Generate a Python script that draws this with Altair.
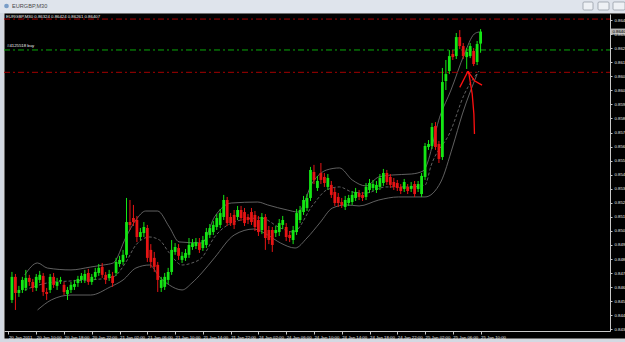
import altair as alt
import pandas as pd

# ---------------- data ----------------
bars = list(range(1, 137))

opens = [
    0.84557, 0.84716, 0.84605, 0.84626, 0.84640, 0.84709, 0.84681, 0.84640, 0.84695, 0.84723,
    0.84612, 0.84626, 0.84716, 0.84654, 0.84688, 0.84661, 0.84598, 0.84626, 0.84647, 0.84674,
    0.84695, 0.84695, 0.84743, 0.84681, 0.84716, 0.84743, 0.84785, 0.84730, 0.84709, 0.84723,
    0.84743, 0.84805, 0.84819, 0.84868, 0.85094, 0.85122, 0.85108, 0.84991, 0.85018, 0.85053,
    0.84902, 0.84847, 0.84799, 0.84640, 0.84647, 0.84695, 0.84750, 0.84888, 0.84915, 0.84833,
    0.84847, 0.84868, 0.84922, 0.84929, 0.84949, 0.84915, 0.84936, 0.85005, 0.85025, 0.85060,
    0.85074, 0.85129, 0.85246, 0.85129, 0.85143, 0.85129, 0.85177, 0.85163, 0.85129, 0.85163,
    0.85143, 0.85108, 0.85039, 0.85129, 0.85039, 0.85039, 0.85018, 0.85025, 0.85074, 0.85060,
    0.85005, 0.84970, 0.85025, 0.85108, 0.85163, 0.85191, 0.85260, 0.85439, 0.85329, 0.85432,
    0.85405, 0.85336, 0.85350, 0.85301, 0.85267, 0.85232, 0.85198, 0.85225, 0.85232, 0.85260,
    0.85294, 0.85281, 0.85267, 0.85315, 0.85329, 0.85315, 0.85336, 0.85363, 0.85432, 0.85405,
    0.85370, 0.85363, 0.85336, 0.85322, 0.85336, 0.85322, 0.85356, 0.85322, 0.85287, 0.85405,
    0.85611, 0.85618, 0.85756, 0.85632, 0.85542, 0.86066, 0.86135, 0.86252, 0.86238, 0.86369,
    0.86307, 0.86231, 0.86238, 0.86273, 0.86197, 0.86324,
]
highs = [
    0.84750, 0.84736, 0.84654, 0.84716, 0.84764, 0.84730, 0.84702, 0.84736, 0.84757, 0.84743,
    0.84640, 0.84736, 0.84743, 0.84709, 0.84716, 0.84681, 0.84647, 0.84681, 0.84695, 0.84723,
    0.84743, 0.84764, 0.84771, 0.84736, 0.84778, 0.84805, 0.84812, 0.84750, 0.84764, 0.84750,
    0.84847, 0.84861, 0.84902, 0.85260, 0.85246, 0.85212, 0.85136, 0.85053, 0.85094, 0.85074,
    0.84942, 0.84888, 0.84819, 0.84716, 0.84743, 0.84778, 0.84970, 0.84949, 0.84942, 0.84888,
    0.84908, 0.84984, 0.84977, 0.84984, 0.84984, 0.84998, 0.85053, 0.85080, 0.85101, 0.85149,
    0.85184, 0.85281, 0.85267, 0.85156, 0.85177, 0.85205, 0.85205, 0.85191, 0.85149, 0.85191,
    0.85170, 0.85136, 0.85156, 0.85149, 0.85067, 0.85060, 0.85067, 0.85115, 0.85136, 0.85087,
    0.85032, 0.85067, 0.85184, 0.85205, 0.85274, 0.85287, 0.85474, 0.85488, 0.85412, 0.85501,
    0.85432, 0.85425, 0.85377, 0.85329, 0.85294, 0.85260, 0.85274, 0.85281, 0.85308, 0.85329,
    0.85315, 0.85301, 0.85363, 0.85391, 0.85384, 0.85377, 0.85425, 0.85460, 0.85453, 0.85425,
    0.85398, 0.85384, 0.85356, 0.85391, 0.85356, 0.85370, 0.85377, 0.85377, 0.85432, 0.85639,
    0.85659, 0.85777, 0.85783, 0.85653, 0.86156, 0.86211, 0.86280, 0.86280, 0.86397, 0.86417,
    0.86328, 0.86293, 0.86328, 0.86293, 0.86342, 0.86424,
]
lows = [
    0.84536, 0.84488, 0.84578, 0.84605, 0.84619, 0.84654, 0.84612, 0.84619, 0.84674, 0.84585,
    0.84557, 0.84605, 0.84640, 0.84626, 0.84667, 0.84592, 0.84557, 0.84605, 0.84626, 0.84647,
    0.84674, 0.84674, 0.84661, 0.84661, 0.84695, 0.84723, 0.84709, 0.84667, 0.84688, 0.84647,
    0.84723, 0.84785, 0.84799, 0.84847, 0.85039, 0.85067, 0.84956, 0.84970, 0.84991, 0.84819,
    0.84778, 0.84750, 0.84612, 0.84612, 0.84626, 0.84667, 0.84730, 0.84868, 0.84833, 0.84812,
    0.84826, 0.84847, 0.84902, 0.84908, 0.84881, 0.84895, 0.84915, 0.84984, 0.85005, 0.85039,
    0.85053, 0.85108, 0.85067, 0.85067, 0.85046, 0.85108, 0.85101, 0.85067, 0.85080, 0.85074,
    0.85032, 0.84998, 0.85011, 0.84902, 0.84942, 0.84888, 0.84991, 0.84998, 0.85046, 0.84963,
    0.84956, 0.84942, 0.85005, 0.85087, 0.85143, 0.85170, 0.85239, 0.85356, 0.85308, 0.85356,
    0.85336, 0.85315, 0.85260, 0.85205, 0.85198, 0.85191, 0.85177, 0.85205, 0.85212, 0.85239,
    0.85246, 0.85239, 0.85246, 0.85294, 0.85308, 0.85294, 0.85315, 0.85343, 0.85350, 0.85329,
    0.85315, 0.85308, 0.85287, 0.85301, 0.85287, 0.85301, 0.85267, 0.85301, 0.85267, 0.85384,
    0.85591, 0.85597, 0.85591, 0.85501, 0.85522, 0.86004, 0.86114, 0.86211, 0.86218, 0.86286,
    0.86218, 0.86149, 0.86224, 0.86169, 0.86176, 0.86261,
]
closes = [
    0.84716, 0.84605, 0.84626, 0.84695, 0.84709, 0.84681, 0.84640, 0.84716, 0.84730, 0.84612,
    0.84598, 0.84716, 0.84661, 0.84681, 0.84695, 0.84612, 0.84626, 0.84661, 0.84667, 0.84702,
    0.84723, 0.84736, 0.84681, 0.84716, 0.84750, 0.84778, 0.84730, 0.84695, 0.84736, 0.84674,
    0.84819, 0.84833, 0.84868, 0.85094, 0.85074, 0.85094, 0.84991, 0.85025, 0.85060, 0.84847,
    0.84819, 0.84785, 0.84695, 0.84695, 0.84716, 0.84750, 0.84902, 0.84922, 0.84861, 0.84861,
    0.84881, 0.84936, 0.84949, 0.84956, 0.84902, 0.84970, 0.85025, 0.85053, 0.85074, 0.85122,
    0.85156, 0.85246, 0.85087, 0.85087, 0.85074, 0.85177, 0.85122, 0.85087, 0.85108, 0.85094,
    0.85060, 0.85025, 0.85129, 0.84984, 0.84970, 0.84936, 0.85039, 0.85087, 0.85108, 0.84991,
    0.84984, 0.85039, 0.85156, 0.85177, 0.85246, 0.85260, 0.85453, 0.85384, 0.85377, 0.85384,
    0.85363, 0.85398, 0.85281, 0.85225, 0.85225, 0.85212, 0.85246, 0.85260, 0.85281, 0.85301,
    0.85267, 0.85260, 0.85336, 0.85363, 0.85356, 0.85350, 0.85398, 0.85432, 0.85370, 0.85350,
    0.85336, 0.85329, 0.85308, 0.85370, 0.85308, 0.85343, 0.85287, 0.85356, 0.85412, 0.85618,
    0.85632, 0.85749, 0.85611, 0.85529, 0.86059, 0.86114, 0.86238, 0.86231, 0.86369, 0.86307,
    0.86238, 0.86266, 0.86307, 0.86183, 0.86321, 0.86407,
]

# indicator lines (bar position, price)
upper_bar = [4.68, 8.37, 11.20, 18.0, 23.67, 27.35, 30.18, 33.87, 36.70, 39.53, 42.93, 46.33,
             49.16, 55.68, 59.36, 64.18, 71.83, 74.66, 80.33, 83.44, 87.69, 91.66, 95.34,
             99.03, 103.0, 106.68, 110.36, 116.03, 119.43, 124.53, 127.36, 131.33, 134.16, 135.57]
upper_price = [0.84729, 0.84812, 0.84777, 0.84764, 0.84784, 0.84798, 0.84812, 0.84991, 0.85108,
               0.85170, 0.85170, 0.85060, 0.84957, 0.84950, 0.85129, 0.85225, 0.85232, 0.85212,
               0.85177, 0.85163, 0.85370, 0.85453, 0.85467, 0.85384, 0.85343, 0.85405, 0.85418,
               0.85425, 0.85446, 0.85839, 0.85997, 0.86252, 0.86390, 0.86404]
middle_bar = [4.68, 11.20, 18.0, 23.67, 30.18, 33.87, 36.70, 40.66, 43.50, 46.33, 50.01, 52.85,
              55.68, 59.36, 67.01, 72.68, 78.34, 82.03, 87.69, 91.66, 95.34, 99.03, 103.0,
              108.66, 116.03, 120.0, 121.70, 127.36, 131.33, 135.57]
middle_price = [0.84626, 0.84674, 0.84688, 0.84695, 0.84716, 0.84819, 0.84936, 0.84991, 0.84970,
                0.84881, 0.84798, 0.84812, 0.84848, 0.84991, 0.85108, 0.85122, 0.85053, 0.85025,
                0.85212, 0.85315, 0.85336, 0.85301, 0.85294, 0.85336, 0.85336, 0.85349, 0.85480,
                0.85721, 0.85976, 0.86135]
lower_bar = [8.37, 12.33, 18.0, 23.67, 29.33, 33.02, 36.70, 40.66, 43.50, 46.33, 50.01, 52.85,
             55.68, 59.36, 65.03, 70.70, 74.66, 78.34, 82.59, 85.99, 89.68, 93.36, 97.33,
             101.01, 106.68, 112.35, 120.0, 124.53, 127.93, 130.76, 135.01]
lower_price = [0.84488, 0.84557, 0.84591, 0.84591, 0.84647, 0.84695, 0.84777, 0.84798, 0.84716,
               0.84660, 0.84626, 0.84674, 0.84743, 0.84848, 0.85005, 0.85046, 0.85005, 0.84950,
               0.84915, 0.84984, 0.85088, 0.85191, 0.85212, 0.85205, 0.85246, 0.85267, 0.85267,
               0.85370, 0.85611, 0.85839, 0.86114]

time_labels = [
    "20 Jan 2011", "20 Jan 10:00", "20 Jan 18:00", "20 Jan 22:00", "21 Jan 02:00",
    "21 Jan 06:00", "21 Jan 10:00", "21 Jan 14:00", "21 Jan 22:00", "24 Jan 02:00",
    "24 Jan 06:00", "24 Jan 10:00", "24 Jan 14:00", "24 Jan 18:00", "24 Jan 22:00",
    "25 Jan 02:00", "25 Jan 06:00", "25 Jan 10:00",
]
label_bars = [8 * k for k in range(len(time_labels))]

price_ticks = [
    0.86486, 0.86389, 0.86292, 0.86196, 0.86099, 0.86002, 0.85905, 0.85808,
    0.85711, 0.85614, 0.85517, 0.85420, 0.85324, 0.85227, 0.85130, 0.85033,
    0.84936, 0.84839, 0.84742, 0.84645, 0.84549, 0.84452, 0.84355,
]

tp_price = 0.86493
open_price = 0.86280
sl_price = 0.86126

header_text = "EURGBP,M30  0.86324 0.86424 0.86261 0.86407"
order_label = "#4125518 buy"
window_title = "EURGBP,M30"

# hand-drawn red arrow (bar position, price)
arrow_group = ["shaft"] * 5 + ["left"] * 2 + ["right"] * 3
arrow_order = [0, 1, 2, 3, 4, 0, 1, 0, 1, 2]
arrow_bar = [134.24, 134.07, 133.59, 132.66, 132.37, 130.0, 132.37, 132.37, 134.24, 136.42]
arrow_price = [0.85701, 0.85839, 0.85976, 0.86114, 0.86133, 0.86022, 0.86133,
               0.86133, 0.86068, 0.86038]

# ---------------- styling ----------------
W, H = 606, 317
X_DOMAIN = [0.15, 171.84]
Y_DOMAIN = [0.84343, 0.86528]
GREEN = "#14e614"
RED = "#e61414"
BAND = "#787878"
AXC = "#c8c8c8"
LAB = "#e8e8e8"
FONT = "Liberation Sans"

candles = pd.DataFrame({"i": bars, "open": opens, "high": highs, "low": lows, "close": closes})
bands_df = pd.concat([
    pd.DataFrame({"band": "upper", "i": upper_bar, "price": upper_price}),
    pd.DataFrame({"band": "lower", "i": lower_bar, "price": lower_price}),
])
middle_df = pd.DataFrame({"i": middle_bar, "price": middle_price})
hl = pd.DataFrame({"price": [tp_price, open_price, sl_price], "kind": ["tp", "open", "sl"]})
order_df = pd.DataFrame({"price": [open_price], "label": [order_label]})
last_df = pd.DataFrame({"price": [closes[-1]], "label": [f"{closes[-1]:.5f}"]})
arrow = pd.DataFrame({"grp": arrow_group, "ord": arrow_order, "i": arrow_bar, "price": arrow_price})
one = pd.DataFrame({"a": [0]})

label_expr = "[" + ",".join(f"'{t}'" for t in time_labels) + "][round(datum.value / 8)]"

xs = alt.Scale(domain=X_DOMAIN, nice=False, zero=False)
ys = alt.Scale(domain=Y_DOMAIN, nice=False, zero=False)

x_axis = alt.Axis(
    values=label_bars, labelExpr=label_expr, title=None, grid=False, zindex=1,
    domainColor=AXC, tickColor=AXC, tickSize=3, labelColor=LAB,
    labelFont=FONT, labelFontSize=4.3, labelAlign="left", labelBaseline="top",
    labelPadding=1, labelOverlap=False, labelFlush=False,
)
y_axis = alt.Axis(
    orient="right", values=price_ticks, format=".5f", title=None, grid=False, zindex=1,
    domainColor=AXC, tickColor=AXC, tickSize=2, labelColor=LAB,
    labelFont=FONT, labelFontSize=4.3, labelAlign="left", labelBaseline="middle",
    labelPadding=2, labelOverlap=False, labelFlush=False,
)


def X(field):
    return alt.X(field, scale=xs, axis=x_axis)


def Y(field):
    return alt.Y(field, scale=ys, axis=y_axis)


# window chrome
title_bar = alt.Chart(one).mark_rect(color="#dfe4ec").encode(
    x=alt.value(-4), x2=alt.value(622), y=alt.value(-14), y2=alt.value(-1))
black = alt.Chart(one).mark_rect(color="black", stroke="#d8d8d8", strokeWidth=1).encode(
    x=alt.value(0), x2=alt.value(625), y=alt.value(-1), y2=alt.value(325))
icon = alt.Chart(one).mark_point(filled=True, color="#4f7fb8", size=22, shape="circle").encode(
    x=alt.value(2.5), y=alt.value(-8))
title_txt = alt.Chart(one).mark_text(align="left", baseline="middle", font=FONT,
                                      fontSize=5.6, color="#4a4a4a").encode(
    x=alt.value(8), y=alt.value(-8), text=alt.value(window_title))
btns = [
    alt.Chart(one).mark_rect(color="#eef1f5", stroke="#8b939e", strokeWidth=0.7,
                             cornerRadius=1).encode(
        x=alt.value(a), x2=alt.value(b), y=alt.value(-12), y2=alt.value(-4))
    for a, b in [(579, 589), (594, 605), (609, 621)]
]

bands = alt.Chart(bands_df).mark_line(color=BAND, strokeWidth=0.8, interpolate="monotone",
                                      clip=True).encode(
    x=X("i:Q"), y=Y("price:Q"), detail="band:N")
middle = alt.Chart(middle_df).mark_line(color=BAND, strokeWidth=0.8, strokeDash=[3, 2],
                                        interpolate="monotone", clip=True).encode(
    x=X("i:Q"), y=Y("price:Q"))

red_lines = alt.Chart(hl).transform_filter("datum.kind != 'open'").mark_rule(
    color="#a40000", strokeWidth=1, strokeDash=[6, 3, 2, 3]).encode(
    y=Y("price:Q"), x=alt.value(0), x2=alt.value(W))
green_line = alt.Chart(hl).transform_filter("datum.kind == 'open'").mark_rule(
    color="#0aa80a", strokeWidth=1, strokeDash=[6, 3, 2, 3]).encode(
    y=Y("price:Q"), x=alt.value(0), x2=alt.value(W))

base = alt.Chart(candles)
candle_color = alt.condition("datum.close >= datum.open", alt.value(GREEN), alt.value(RED))
wicks = base.mark_rule(strokeWidth=1).encode(
    x=X("i:Q"), y=Y("low:Q"), y2="high:Q", color=candle_color)
bodies = base.mark_bar(size=2.8).encode(
    x=X("i:Q"), y=Y("open:Q"), y2="close:Q", color=candle_color)

header = alt.Chart(one).mark_text(align="left", baseline="middle", font=FONT,
                                   fontSize=4.3, color="#f0f0f0").encode(
    x=alt.value(2), y=alt.value(3), text=alt.value(header_text))
order_txt = alt.Chart(order_df).mark_text(align="left", baseline="bottom", font=FONT,
                                          fontSize=4.3, color="#f0f0f0", dy=-1.5).encode(
    x=alt.value(3), y=Y("price:Q"), text="label:N")

arrow_lines = alt.Chart(arrow).mark_line(color="#ff1010", strokeWidth=1.3).encode(
    x=X("i:Q"), y=Y("price:Q"), detail="grp:N", order="ord:Q")

price_box = alt.Chart(last_df).mark_tick(color="white", thickness=6, size=20,
                                         orient="horizontal").encode(
    x=alt.value(W + 10), y=Y("price:Q"))
price_txt = alt.Chart(last_df).mark_text(align="left", baseline="middle", font=FONT,
                                         fontSize=4.3, color="black").encode(
    x=alt.value(W + 2.5), y=Y("price:Q"), text="label:N")

chart = alt.layer(
    black, title_bar, icon, title_txt, *btns,
    bands, middle, red_lines, green_line, wicks, bodies,
    header, order_txt, arrow_lines, price_box, price_txt,
).properties(
    width=W, height=H, autosize="none",
    padding={"left": 4, "top": 14, "right": 15, "bottom": 11},
).configure(background="#d3d9e2").configure_view(strokeWidth=0)

chart.save("out.html", embed_options={"renderer": "svg", "actions": False})
